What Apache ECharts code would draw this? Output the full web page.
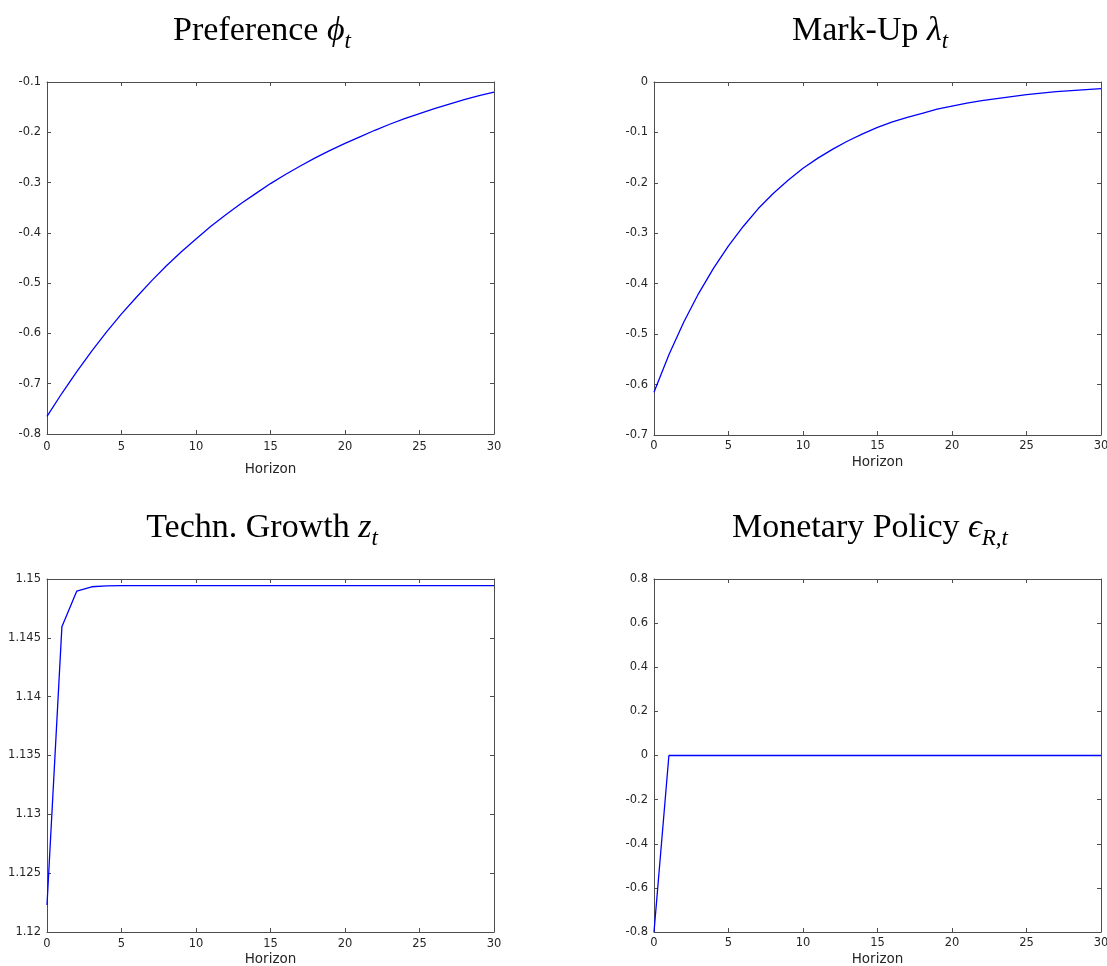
<!DOCTYPE html>
<html>
<head>
<meta charset="utf-8">
<script src="https://cdn.jsdelivr.net/npm/echarts@6/dist/echarts.min.js"></script>
<style>
html,body{margin:0;padding:0;background:#fff;}
#chart{width:1107px;height:966px;}
</style>
</head>
<body>
<div id="chart"></div>
<script>
// ---- data ----
var horizon = [0,1,2,3,4,5,6,7,8,9,10,11,12,13,14,15,16,17,18,19,20,21,22,23,24,25,26,27,28,29,30];
var preference = [-0.765,-0.719,-0.676,-0.635,-0.597,-0.561,-0.528,-0.496,-0.466,-0.438,-0.412,-0.387,-0.364,-0.342,-0.322,-0.302,-0.284,-0.267,-0.251,-0.236,-0.222,-0.209,-0.196,-0.184,-0.173,-0.163,-0.153,-0.144,-0.135,-0.127,-0.120];
var markup = [-0.615,-0.541,-0.476,-0.419,-0.369,-0.325,-0.286,-0.251,-0.221,-0.195,-0.171,-0.151,-0.133,-0.117,-0.103,-0.090,-0.079,-0.070,-0.062,-0.054,-0.048,-0.042,-0.037,-0.033,-0.029,-0.025,-0.022,-0.019,-0.017,-0.015,-0.013];
var technGrowth = [1.1223,1.14595,1.14898,1.14934,1.14942,1.14943,1.14943,1.14943,1.14943,1.14943,1.14943,1.14943,1.14943,1.14943,1.14943,1.14943,1.14943,1.14943,1.14943,1.14943,1.14943,1.14943,1.14943,1.14943,1.14943,1.14943,1.14943,1.14943,1.14943,1.14943,1.14943];
var monetary = [-0.8,0,0,0,0,0,0,0,0,0,0,0,0,0,0,0,0,0,0,0,0,0,0,0,0,0,0,0,0,0,0];
var titles = [
  '{n|Preference }{m|ϕ}{s|t}',
  '{n|Mark-Up }{m|λ}{s|t}',
  '{n|Techn. Growth }{m|z}{s|t}',
  '{n|Monetary Policy }{m|ϵ}{s|R,t}'
];
var yRanges = [
  {min:-0.8, max:-0.1, interval:0.1},
  {min:-0.7, max:0, interval:0.1},
  {min:1.12, max:1.15, interval:0.005},
  {min:-0.8, max:0.8, interval:0.2}
];
var xLabel = 'Horizon';

// ---- layout ----
var grids = [
  {left:47, top:82, width:447, height:352},
  {left:654, top:82, width:447, height:353},
  {left:47, top:579, width:447, height:353},
  {left:654, top:579, width:447, height:353}
];
var titlePos = [
  {x:257, y:4},
  {x:865, y:4},
  {x:257, y:501},
  {x:865, y:501}
];
var xLabelMargin = [7, 5, 6, 5];
var xNameGap = [28, 20, 20, 20];
var seriesData = [preference, markup, technGrowth, monetary];

var axisColor = '#4d4d4d';
var labelColor = '#262626';
var serif = '"Liberation Serif", "DejaVu Serif", serif';
var rich = {
  n:{fontFamily:serif, fontSize:34, fontWeight:'normal', color:'#000', lineHeight:44},
  m:{fontFamily:serif, fontSize:34, fontWeight:'normal', fontStyle:'italic', color:'#000', lineHeight:44},
  s:{fontFamily:serif, fontSize:23, fontWeight:'normal', fontStyle:'italic', color:'#000', lineHeight:28, verticalAlign:'bottom'}
};

var option = {
  animation:false,
  backgroundColor:'#fff',
  title:[], grid:[], xAxis:[], yAxis:[], series:[]
};

for (var i=0;i<4;i++){
  option.title.push({
    text:titles[i], left:titlePos[i].x, top:titlePos[i].y, textAlign:'center',
    textStyle:{fontWeight:'normal', rich:rich}
  });
  option.grid.push({left:grids[i].left, top:grids[i].top, width:grids[i].width, height:grids[i].height,
    containLabel:false, outerBoundsMode:'none'});
  var common = {
    gridIndex:i, type:'value', min:0, max:30, interval:5,
    axisLine:{show:true, onZero:false, lineStyle:{color:axisColor, width:1}},
    axisTick:{show:true, inside:true, length:4, lineStyle:{color:axisColor}},
    splitLine:{show:false}
  };
  option.xAxis.push(Object.assign({}, common, {
    position:'bottom',
    axisLabel:{show:true, margin:xLabelMargin[i], color:labelColor, fontFamily:'DejaVu Sans', fontSize:11.5},
    name:xLabel, nameLocation:'middle', nameGap:xNameGap[i],
    nameTextStyle:{color:labelColor, fontFamily:'DejaVu Sans', fontSize:13.5}
  }));
  option.xAxis.push(Object.assign({}, common, {
    position:'top', axisLabel:{show:false}
  }));
  var ycommon = {
    gridIndex:i, type:'value', min:yRanges[i].min, max:yRanges[i].max, interval:yRanges[i].interval,
    axisLine:{show:true, onZero:false, lineStyle:{color:axisColor, width:1}},
    axisTick:{show:true, inside:true, length:4, lineStyle:{color:axisColor}},
    splitLine:{show:false}
  };
  option.yAxis.push(Object.assign({}, ycommon, {
    position:'left',
    axisLabel:{show:true, margin:6, color:labelColor, fontFamily:'DejaVu Sans', fontSize:11.5}
  }));
  option.yAxis.push(Object.assign({}, ycommon, {
    position:'right', axisLabel:{show:false}
  }));
  var pts = [];
  for (var k=0;k<horizon.length;k++) pts.push([horizon[k], seriesData[i][k]]);
  option.series.push({
    type:'line', xAxisIndex:2*i, yAxisIndex:2*i, data:pts,
    showSymbol:false, symbol:'none', clip:false, z:5,
    lineStyle:{color:'#0000ff', width:1.3}
  });
}

var chart = echarts.init(document.getElementById('chart'), null, {renderer:'canvas'});
chart.setOption(option);
</script>
</body>
</html>
